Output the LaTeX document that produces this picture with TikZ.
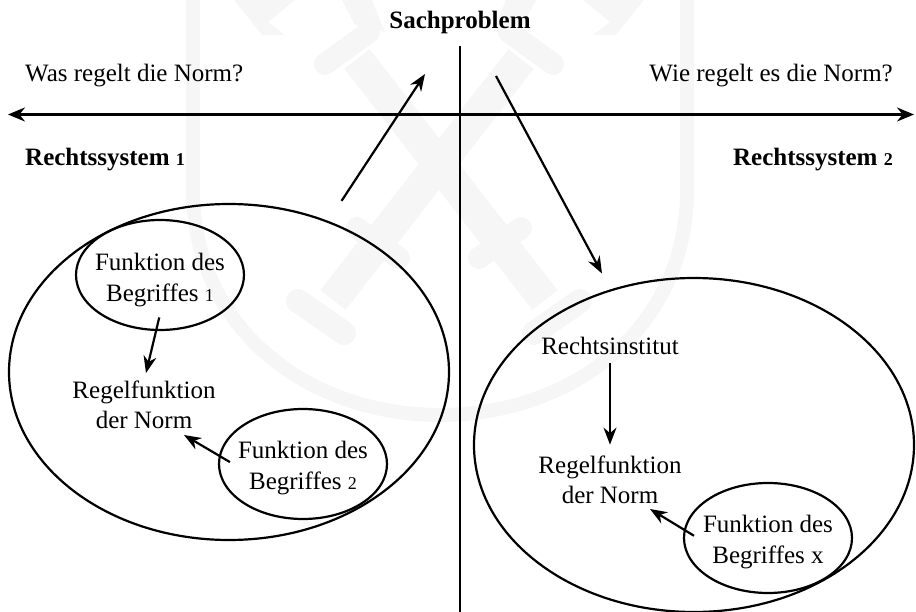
\documentclass[tikz,border=0pt]{standalone}
\usepackage{fontspec}
\setmainfont{Liberation Serif}
\usetikzlibrary{arrows.meta,shapes.geometric}
\definecolor{wmgray}{HTML}{F6F6F6}
\newcommand{\ziffer}[1]{{\fontsize{18}{18}\selectfont #1}}
\tikzset{
	txt/.style={font=\fontsize{25}{30.5}\selectfont,inner sep=0pt,align=center},
	boldtxt/.style={font=\fontsize{25}{30.5}\selectfont\bfseries,inner sep=0pt},
	kreis/.style={draw,ellipse,line width=2.2pt,inner sep=0pt},
	klein/.style={kreis,minimum width=168pt,minimum height=110pt},
	pfeil/.style={-{Stealth[length=17pt,width=13pt]},line width=2.2pt},
	achse/.style={line width=2.4pt}
}
\begin{document}
\begin{tikzpicture}[x=1pt,y=-1pt]
\useasboundingbox (0,0) rectangle (916,612);
% Wasserzeichen
\begin{scope}[wmgray]
	\draw[line width=14pt] (193,-5) -- (193,190) .. controls (193,330) and (310,415) .. (440,415) .. controls (570,415) and (687,330) .. (687,190) -- (687,-5);
	\foreach \s/\m in {1/0,-1/878} {
		\begin{scope}[xshift=\m pt,xscale=\s]
		\draw[line width=32pt] (357,59) -- (545,300);
		\draw[line width=22pt,line cap=round] (325,64) -- (369,32);
		\draw[line width=22pt,line cap=round] (479,258) -- (521,228);
		\draw[line width=24pt,line cap=round] (534,333) -- (580,301);
		\fill (234,0) -- (295,0) -- (268,22) -- (285,35) -- (262,35) -- cycle;
		\fill (342,0) -- (372,0) -- (385,32) -- (355,25) -- cycle;
		\end{scope}
	}
\end{scope}
% Achsen
\draw[achse] (460,46) -- (460,612);
\coordinate (li) at (8,114.5);
\coordinate (re) at (914,114.5);
\draw[achse,{Stealth[length=17pt,width=14pt]}-{Stealth[length=17pt,width=14pt]}] (li) -- (re);
% Texte oben
\node (sach) at (460,22) [boldtxt] {Sachproblem};
\node (was) at (25,76) [txt,anchor=west] {Was regelt die Norm?};
\node (wie) at (893,76) [txt,anchor=east] {Wie regelt es die Norm?};
\node (sys1) at (25,160) [boldtxt,anchor=west] {Rechtssystem \ziffer{1}};
\node (sys2) at (893,160) [boldtxt,anchor=east] {Rechtssystem \ziffer{2}};
% Rechtssystem 1
\node (gross1) at (229,372) [kreis,minimum width=440pt,minimum height=336pt] {};
\node (fb1) at (160,275) [klein] {};
\node (fb2) at (303,464) [klein] {};
\node (fb1txt) at (160,280) [txt] {Funktion des\\Begriffes \ziffer{1}};
\node (fb2txt) at (303,468) [txt] {Funktion des\\Begriffes \ziffer{2}};
\node (rf1) at (144,405) [txt] {Regelfunktion\\der Norm};
% Rechtssystem 2
\node (gross2) at (694,445) [kreis,minimum width=440pt,minimum height=334pt] {};
\node (fbx) at (768,538) [klein] {};
\node (fbxtxt) at (768,542) [txt] {Funktion des\\Begriffes x};
\node (inst) at (610,346) [txt] {Rechtsinstitut};
\node (rf2) at (610,480) [txt] {Regelfunktion\\der Norm};
% Pfeile
\coordinate (hin) at (425,74);
\coordinate (her) at (496,76);
\draw[pfeil,shorten <=24pt] (gross1) -- (hin);
\draw[pfeil,shorten >=18pt] (her) -- (gross2);
\coordinate (z0) at (146,373);
\coordinate (z1) at (184,435);
\coordinate (z2) at (650,509);
\draw[pfeil,shorten <=-14pt] ([xshift=-4pt]fb1.south) -- (z0);
\draw[pfeil,shorten <=-14pt] ([yshift=9pt]fb2.west) -- (z1);
\draw[pfeil,shorten <=-13pt] ([yshift=9pt]fbx.west) -- (z2);
\draw[pfeil,shorten <=8pt,shorten >=11pt] (inst) -- (rf2);
\end{tikzpicture}
\end{document}
